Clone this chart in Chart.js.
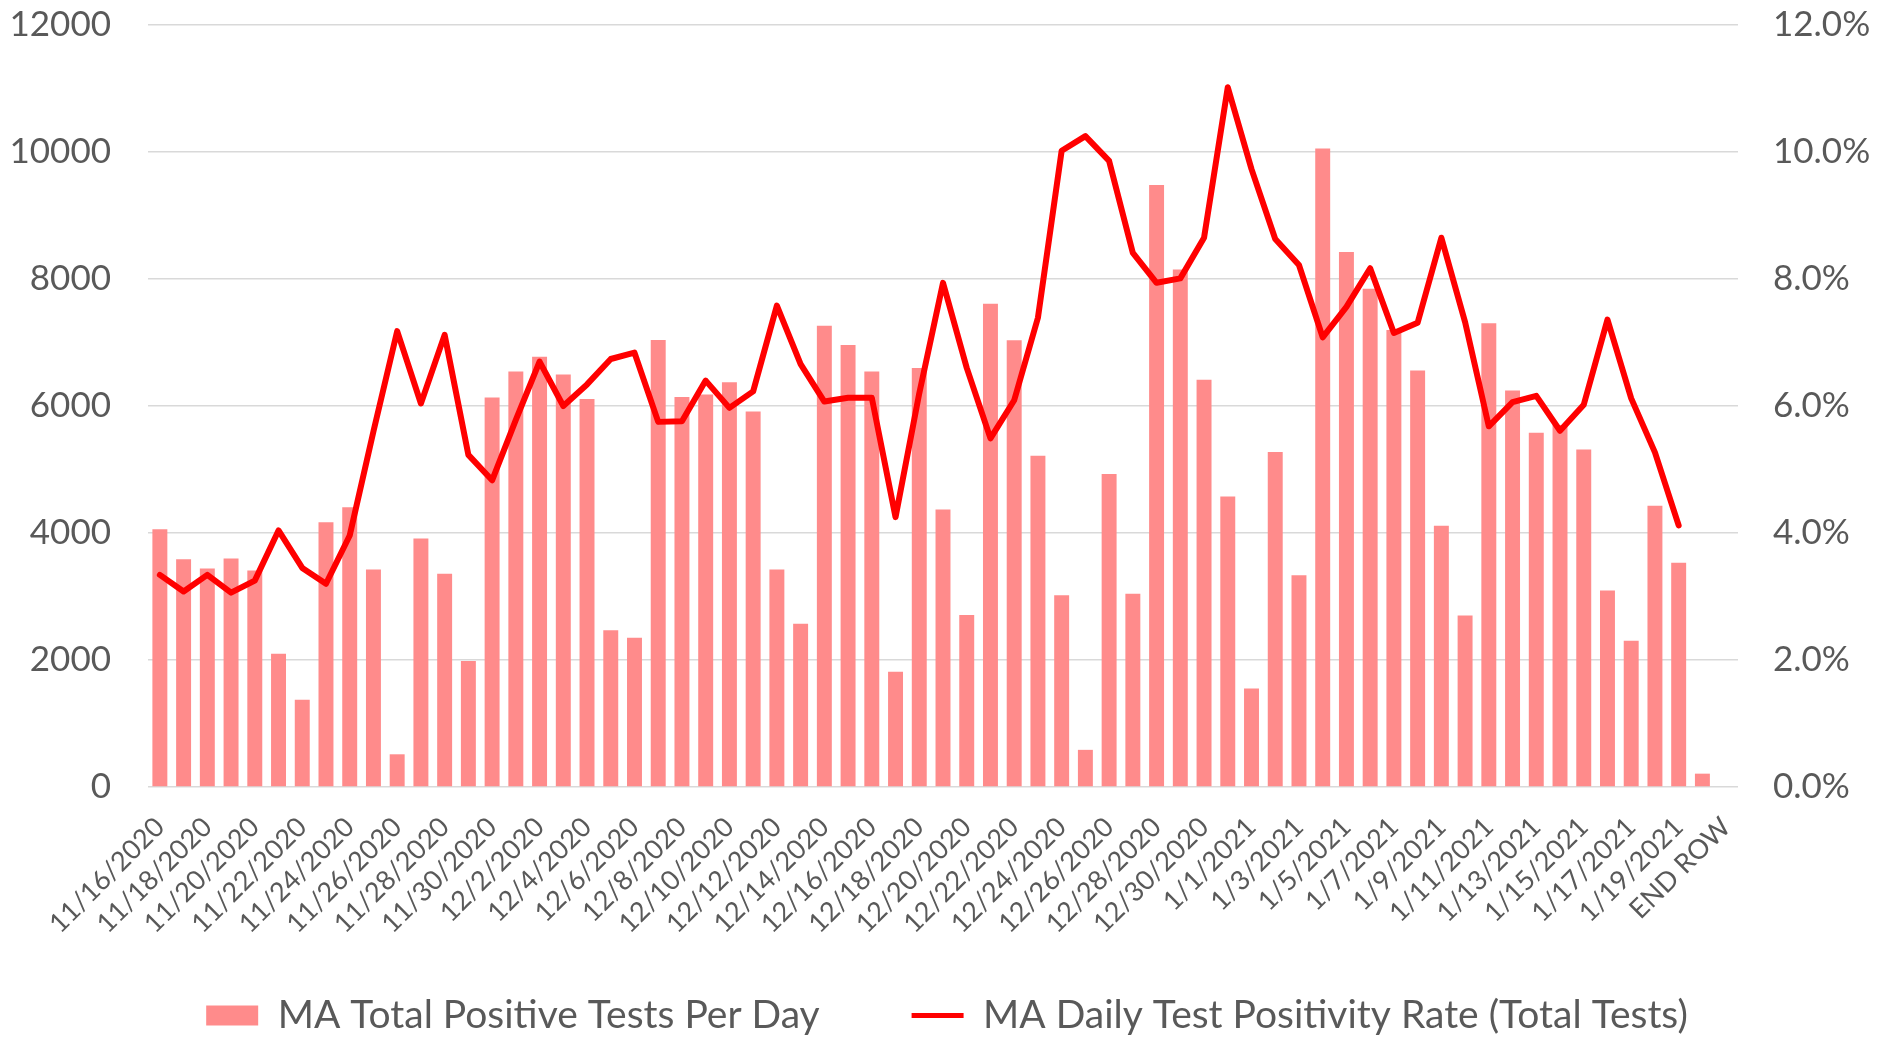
<!DOCTYPE html>
<html>
<head>
<meta charset="utf-8">
<script src="https://cdn.jsdelivr.net/npm/chart.js@4.4.1/dist/chart.umd.min.js"></script>
<style>
  html, body { margin: 0; padding: 0; background: #ffffff; }
  #wrap { width: 1894px; height: 1045px; }
</style>
</head>
<body>
<div id="wrap"><canvas id="maChart" width="1894" height="1045"></canvas></div>
<script>
// x-axis categories (one per day, plus the trailing END ROW)
const dayLabels = [
  '11/16/2020', '11/17/2020', '11/18/2020', '11/19/2020', '11/20/2020', '11/21/2020', '11/22/2020',
  '11/23/2020', '11/24/2020', '11/25/2020', '11/26/2020', '11/27/2020', '11/28/2020', '11/29/2020',
  '11/30/2020', '12/1/2020', '12/2/2020', '12/3/2020', '12/4/2020', '12/5/2020', '12/6/2020',
  '12/7/2020', '12/8/2020', '12/9/2020', '12/10/2020', '12/11/2020', '12/12/2020', '12/13/2020',
  '12/14/2020', '12/15/2020', '12/16/2020', '12/17/2020', '12/18/2020', '12/19/2020', '12/20/2020',
  '12/21/2020', '12/22/2020', '12/23/2020', '12/24/2020', '12/25/2020', '12/26/2020', '12/27/2020',
  '12/28/2020', '12/29/2020', '12/30/2020', '12/31/2020', '1/1/2021', '1/2/2021', '1/3/2021',
  '1/4/2021', '1/5/2021', '1/6/2021', '1/7/2021', '1/8/2021', '1/9/2021', '1/10/2021',
  '1/11/2021', '1/12/2021', '1/13/2021', '1/14/2021', '1/15/2021', '1/16/2021', '1/17/2021',
  '1/18/2021', '1/19/2021', '1/20/2021', 'END ROW'
];

// MA Total Positive Tests Per Day (bars, left axis)
const positiveTests = [
  4060, 3585, 3440, 3600, 3410, 2100, 1375,
  4170, 4405, 3425, 515, 3915, 3360, 1985,
  6135, 6545, 6775, 6495, 6110, 2470, 2350,
  7040, 6140, 6180, 6375, 5915, 3425, 2570,
  7265, 6960, 6545, 1815, 6600, 4370, 2710,
  7610, 7035, 5215, 3020, 585, 4930, 3045,
  9480, 8150, 6415, 4575, 1550, 5275, 3335,
  10055, 8425, 7845, 7195, 6560, 4115, 2700,
  7305, 6245, 5580, 5700, 5315, 3095, 2305,
  4430, 3530, 210, null
];

// MA Daily Test Positivity Rate, in percent (line, right axis)
const positivityRate = [
  3.34, 3.08, 3.34, 3.06, 3.25, 4.04, 3.45,
  3.20, 3.96, 5.60, 7.18, 6.04, 7.12, 5.23,
  4.83, 5.78, 6.70, 6.00, 6.34, 6.74, 6.84,
  5.75, 5.76, 6.40, 5.97, 6.23, 7.58, 6.66,
  6.07, 6.13, 6.13, 4.25, 6.20, 7.94, 6.60,
  5.49, 6.09, 7.39, 10.02, 10.25, 9.86, 8.41,
  7.94, 8.01, 8.65, 11.02, 9.73, 8.63, 8.22,
  7.08, 7.56, 8.17, 7.15, 7.31, 8.65, 7.32,
  5.68, 6.06, 6.16, 5.61, 6.02, 7.36, 6.12,
  5.27, 4.12, null, null
];

const textGray = '#595959';
const fontFamily = 'Lato, "Open Sans", sans-serif';

const ctx = document.getElementById('maChart').getContext('2d');

const chart = new Chart(ctx, {
    type: 'bar',
    data: {
        labels: dayLabels,
        datasets: [
            {
                label: 'MA Total Positive Tests Per Day',
                data: positiveTests,
                backgroundColor: '#FF8B8B',
                borderWidth: 0,
                barPercentage: 0.63,
                categoryPercentage: 1.0,
                yAxisID: 'y',
                order: 2
            },
            {
                type: 'line',
                label: 'MA Daily Test Positivity Rate (Total Tests)',
                data: positivityRate,
                borderColor: '#FF0000',
                backgroundColor: '#FF0000',
                borderWidth: 6,
                borderCapStyle: 'round',
                borderJoinStyle: 'round',
                pointRadius: 0,
                pointHoverRadius: 0,
                tension: 0,
                yAxisID: 'y1',
                order: 1
            }
        ]
    },
    options: {
        responsive: false,
        animation: false,
        layout: {
            padding: { top: 25, left: 0, right: 0, bottom: 0 }
        },
        scales: {
            x: {
                offset: true,
                grid: { display: false, drawTicks: false },
                border: { display: false },
                ticks: {
                    autoSkip: false,
                    maxRotation: 45,
                    minRotation: 45,
                    padding: 24,
                    color: textGray,
                    font: { family: fontFamily, size: 27 },
                    callback: function(value, index) {
                        return index % 2 === 0 ? dayLabels[index] : '';
                    }
                },
                afterFit: function(axis) {
                    axis.height = 207;
                }
            },
            y: {
                position: 'left',
                min: 0,
                max: 12000,
                grid: { color: '#D9D9D9', lineWidth: 1.5, tickLength: 37, tickColor: 'rgba(0,0,0,0)' },
                border: { display: false },
                ticks: {
                    stepSize: 2000,
                    padding: 0,
                    color: textGray,
                    font: { family: fontFamily, size: 35 },
                    callback: function(value) {
                        return String(value);
                    }
                },
                afterFit: function(axis) {
                    axis.width = 148;
                }
            },
            y1: {
                position: 'right',
                min: 0,
                max: 12,
                grid: { drawOnChartArea: false, tickLength: 35, color: 'rgba(0,0,0,0)', tickColor: 'rgba(0,0,0,0)' },
                border: { display: false },
                ticks: {
                    stepSize: 2,
                    padding: 0,
                    color: textGray,
                    font: { family: fontFamily, size: 35 },
                    callback: function(value) {
                        return value.toFixed(1) + '%';
                    }
                },
                afterFit: function(axis) {
                    axis.width = 156;
                }
            }
        },
        plugins: {
            tooltip: { enabled: false },
            legend: {
                position: 'bottom',
                labels: {
                    usePointStyle: true,
                    pointStyleWidth: 52,
                    boxWidth: 52,
                    boxHeight: 20,
                    padding: 2,
                    color: textGray,
                    font: { family: fontFamily, size: 39 },
                    generateLabels: function(c) {
                        const items = Chart.defaults.plugins.legend.labels.generateLabels(c);
                        items.sort((a, b) => a.datasetIndex - b.datasetIndex);
                        items[0].pointStyle = 'rect';
                        items[0].lineWidth = 0;
                        // widen the first entry so the second one sits further right
                        items[0].text = items[0].text + '         ';
                        items[1].pointStyle = 'line';
                        items[1].lineWidth = 5;
                        items[1].strokeStyle = '#FF0000';
                        return items;
                    }
                }
            }
        }
    }
});
</script>
</body>
</html>
